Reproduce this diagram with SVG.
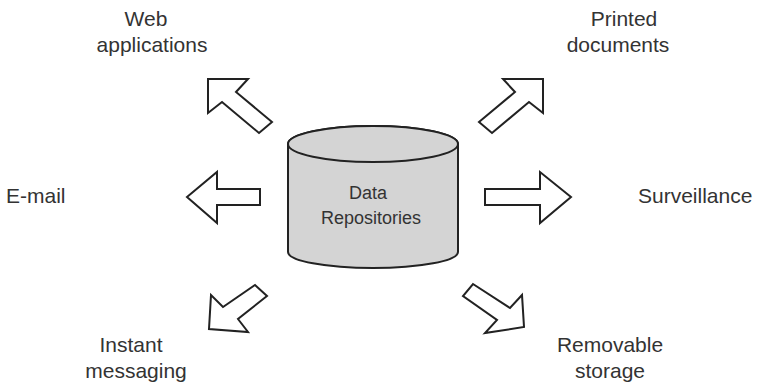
<svg xmlns="http://www.w3.org/2000/svg" width="760" height="388" viewBox="0 0 760 388">
<style>
.lbl{font-family:"Liberation Sans",Arial,sans-serif;font-size:21px;fill:#333;}
.in{font-family:"Liberation Sans",Arial,sans-serif;font-size:18px;fill:#333;text-anchor:middle;}
.arr{fill:#fff;stroke:#222;stroke-width:2;stroke-linejoin:miter;}
.cyl{fill:#d4d4d4;stroke:#222;stroke-width:2;}
</style>
<rect width="760" height="388" fill="#fff"/>
<g id="data-repositories">
<path class="cyl" d="M288,144 L288,252 A85,16 0 0 0 458,252 L458,144 A85,18 0 0 0 288,144 Z"/>
<ellipse class="cyl" cx="373" cy="144" rx="85" ry="18"/>
<text class="in" x="368" y="199">Data</text>
<text class="in" x="371" y="224">Repositories</text>
</g>
<g id="connectors">
<polygon class="arr" points="208,79 248,79 236,92 272,122 259,133 222,102 208,113"/>
<polygon class="arr" points="543,79 503,79 515,92 479,122 492,133 529,102 543,113"/>
<polygon class="arr" points="187,197 217,172 217,189 260,189 260,205 217,205 217,223"/>
<polygon class="arr" points="571,197 540,172 540,189 485,189 485,205 540,205 540,223"/>
<polygon class="arr" points="209,329 211,295 223,307 255,285 267,296 238,319 248,332"/>
<polygon class="arr" points="473,284 510,308 522,295 524,327 485,333 497,320 463,296"/>
</g>
<g id="web-applications">
<text class="lbl" x="146" y="26" text-anchor="middle">Web</text>
<text class="lbl" x="152" y="52" text-anchor="middle">applications</text>
</g>
<g id="printed-documents">
<text class="lbl" x="624" y="26" text-anchor="middle">Printed</text>
<text class="lbl" x="618" y="52" text-anchor="middle">documents</text>
</g>
<g id="e-mail">
<text class="lbl" x="6" y="203">E-mail</text>
</g>
<g id="surveillance">
<text class="lbl" x="638" y="203">Surveillance</text>
</g>
<g id="instant-messaging">
<text class="lbl" x="131" y="352" text-anchor="middle">Instant</text>
<text class="lbl" x="136" y="378" text-anchor="middle">messaging</text>
</g>
<g id="removable-storage">
<text class="lbl" x="610" y="352" text-anchor="middle">Removable</text>
<text class="lbl" x="610" y="378" text-anchor="middle">storage</text>
</g>
</svg>
